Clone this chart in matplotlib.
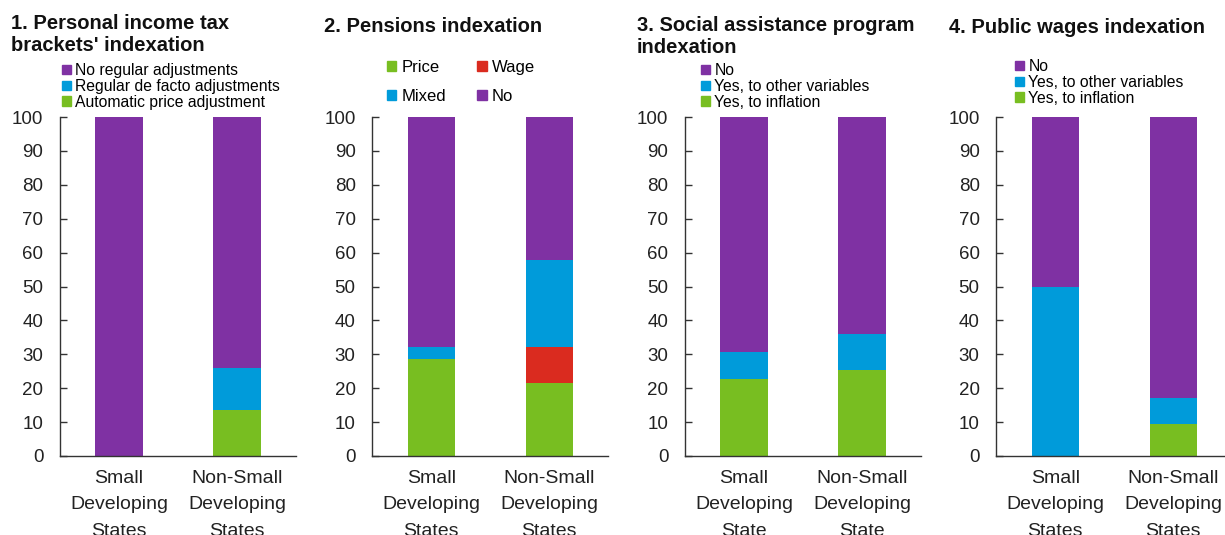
import matplotlib
matplotlib.use("Agg")
import matplotlib.pyplot as plt
from matplotlib.patches import Patch
import numpy as np

plt.rcParams['font.family'] = ['Liberation Sans', 'DejaVu Sans']

PURPLE = '#7F31A3'
BLUE = '#009BDA'
GREEN = '#78BE21'
RED = '#DA2B1F'

cats_states = ['Small\nDeveloping\nStates', 'Non-Small\nDeveloping\nStates']
cats_state = ['Small\nDeveloping\nState', 'Non-Small\nDeveloping\nState']

# Panel 1: Personal income tax brackets' indexation
p1_auto = [0.0, 13.7]
p1_regular = [0.0, 12.3]
p1_none = [100.0, 74.0]

# Panel 2: Pensions indexation
p2_price = [28.6, 21.6]
p2_wage = [0.0, 10.6]
p2_mixed = [3.6, 25.7]
p2_no = [67.8, 42.1]

# Panel 3: Social assistance program indexation
p3_infl = [22.7, 25.4]
p3_other = [8.0, 10.6]
p3_no = [69.3, 64.0]

# Panel 4: Public wages indexation
p4_infl = [0.0, 9.4]
p4_other = [50.0, 7.7]
p4_no = [50.0, 82.9]

W, H = 1225, 535
fig = plt.figure(figsize=(W / 100, H / 100), dpi=100)

ax_bottom = 1 - 456 / H
ax_height = (456 - 117) / H
ax_w = 236 / W
lefts = [60, 372.3, 685, 996.3]

def make_ax(i, cats):
    ax = fig.add_axes([lefts[i] / W, ax_bottom, ax_w, ax_height])
    ax.set_xlim(-0.5, 1.5)
    ax.set_ylim(0, 100)
    ax.set_yticks(np.arange(0, 101, 10))
    ax.set_xticks(range(len(cats)))
    ax.set_xticklabels(cats, fontsize=14, linespacing=1.72, color='#222222')
    ax.tick_params(axis='y', direction='in', length=5, width=1, color='#333333',
                   labelsize=13.5, pad=12, labelcolor='#222222')
    ax.tick_params(axis='x', length=0, pad=10)
    for s in ['top', 'right']:
        ax.spines[s].set_visible(False)
    for s in ['left', 'bottom']:
        ax.spines[s].set_color('#333333')
        ax.spines[s].set_linewidth(1)
    return ax

def stack(ax, series, colors):
    x = np.arange(2)
    bottom = np.zeros(2)
    for vals, c in zip(series, colors):
        v = np.array(vals)
        ax.bar(x, v, width=0.4, bottom=bottom, color=c, edgecolor='none')
        bottom += v

def legend(handles, x, y, fs, ncol=1, labelspacing=0.05, colspacing=2.0):
    fig.legend(handles=handles, loc='upper left', bbox_to_anchor=(x / W, 1 - y / H),
               frameon=False, fontsize=fs, ncol=ncol, handlelength=0.55,
               handleheight=0.55, handletextpad=0.3, labelspacing=labelspacing,
               columnspacing=colspacing, borderpad=0, borderaxespad=0)

def title(txt, x, y):
    fig.text(x / W, 1 - y / H, txt, ha='left', va='top', fontsize=14.5,
             fontweight='bold', color='#111111', linespacing=1.22)

# Panel 1
ax1 = make_ax(0, cats_states)
stack(ax1, [p1_auto, p1_regular, p1_none], [GREEN, BLUE, PURPLE])
title("1. Personal income tax\nbrackets' indexation", 11, 14)
legend([Patch(color=PURPLE, label='No regular adjustments'),
        Patch(color=BLUE, label='Regular de facto adjustments'),
        Patch(color=GREEN, label='Automatic price adjustment')], 62, 63, 11.3)

# Panel 2
ax2 = make_ax(1, cats_states)
stack(ax2, [p2_price, p2_wage, p2_mixed, p2_no], [GREEN, RED, BLUE, PURPLE])
title("2. Pensions indexation", 324, 17)
legend([Patch(color=GREEN, label='Price'), Patch(color=BLUE, label='Mixed'),
        Patch(color=RED, label='Wage'), Patch(color=PURPLE, label='No')],
       387, 60, 12, ncol=2, labelspacing=0.85, colspacing=1.9)

# Panel 3
ax3 = make_ax(2, cats_state)
stack(ax3, [p3_infl, p3_other, p3_no], [GREEN, BLUE, PURPLE])
title("3. Social assistance program\nindexation", 637, 16)
legend([Patch(color=PURPLE, label='No'),
        Patch(color=BLUE, label='Yes, to other variables'),
        Patch(color=GREEN, label='Yes, to inflation')], 701, 63, 11.3)

# Panel 4
ax4 = make_ax(3, cats_states)
stack(ax4, [p4_infl, p4_other, p4_no], [GREEN, BLUE, PURPLE])
title("4. Public wages indexation", 949, 18)
legend([Patch(color=PURPLE, label='No'),
        Patch(color=BLUE, label='Yes, to other variables'),
        Patch(color=GREEN, label='Yes, to inflation')], 1015, 59, 11.3)

fig.savefig('out.png', dpi=100)
